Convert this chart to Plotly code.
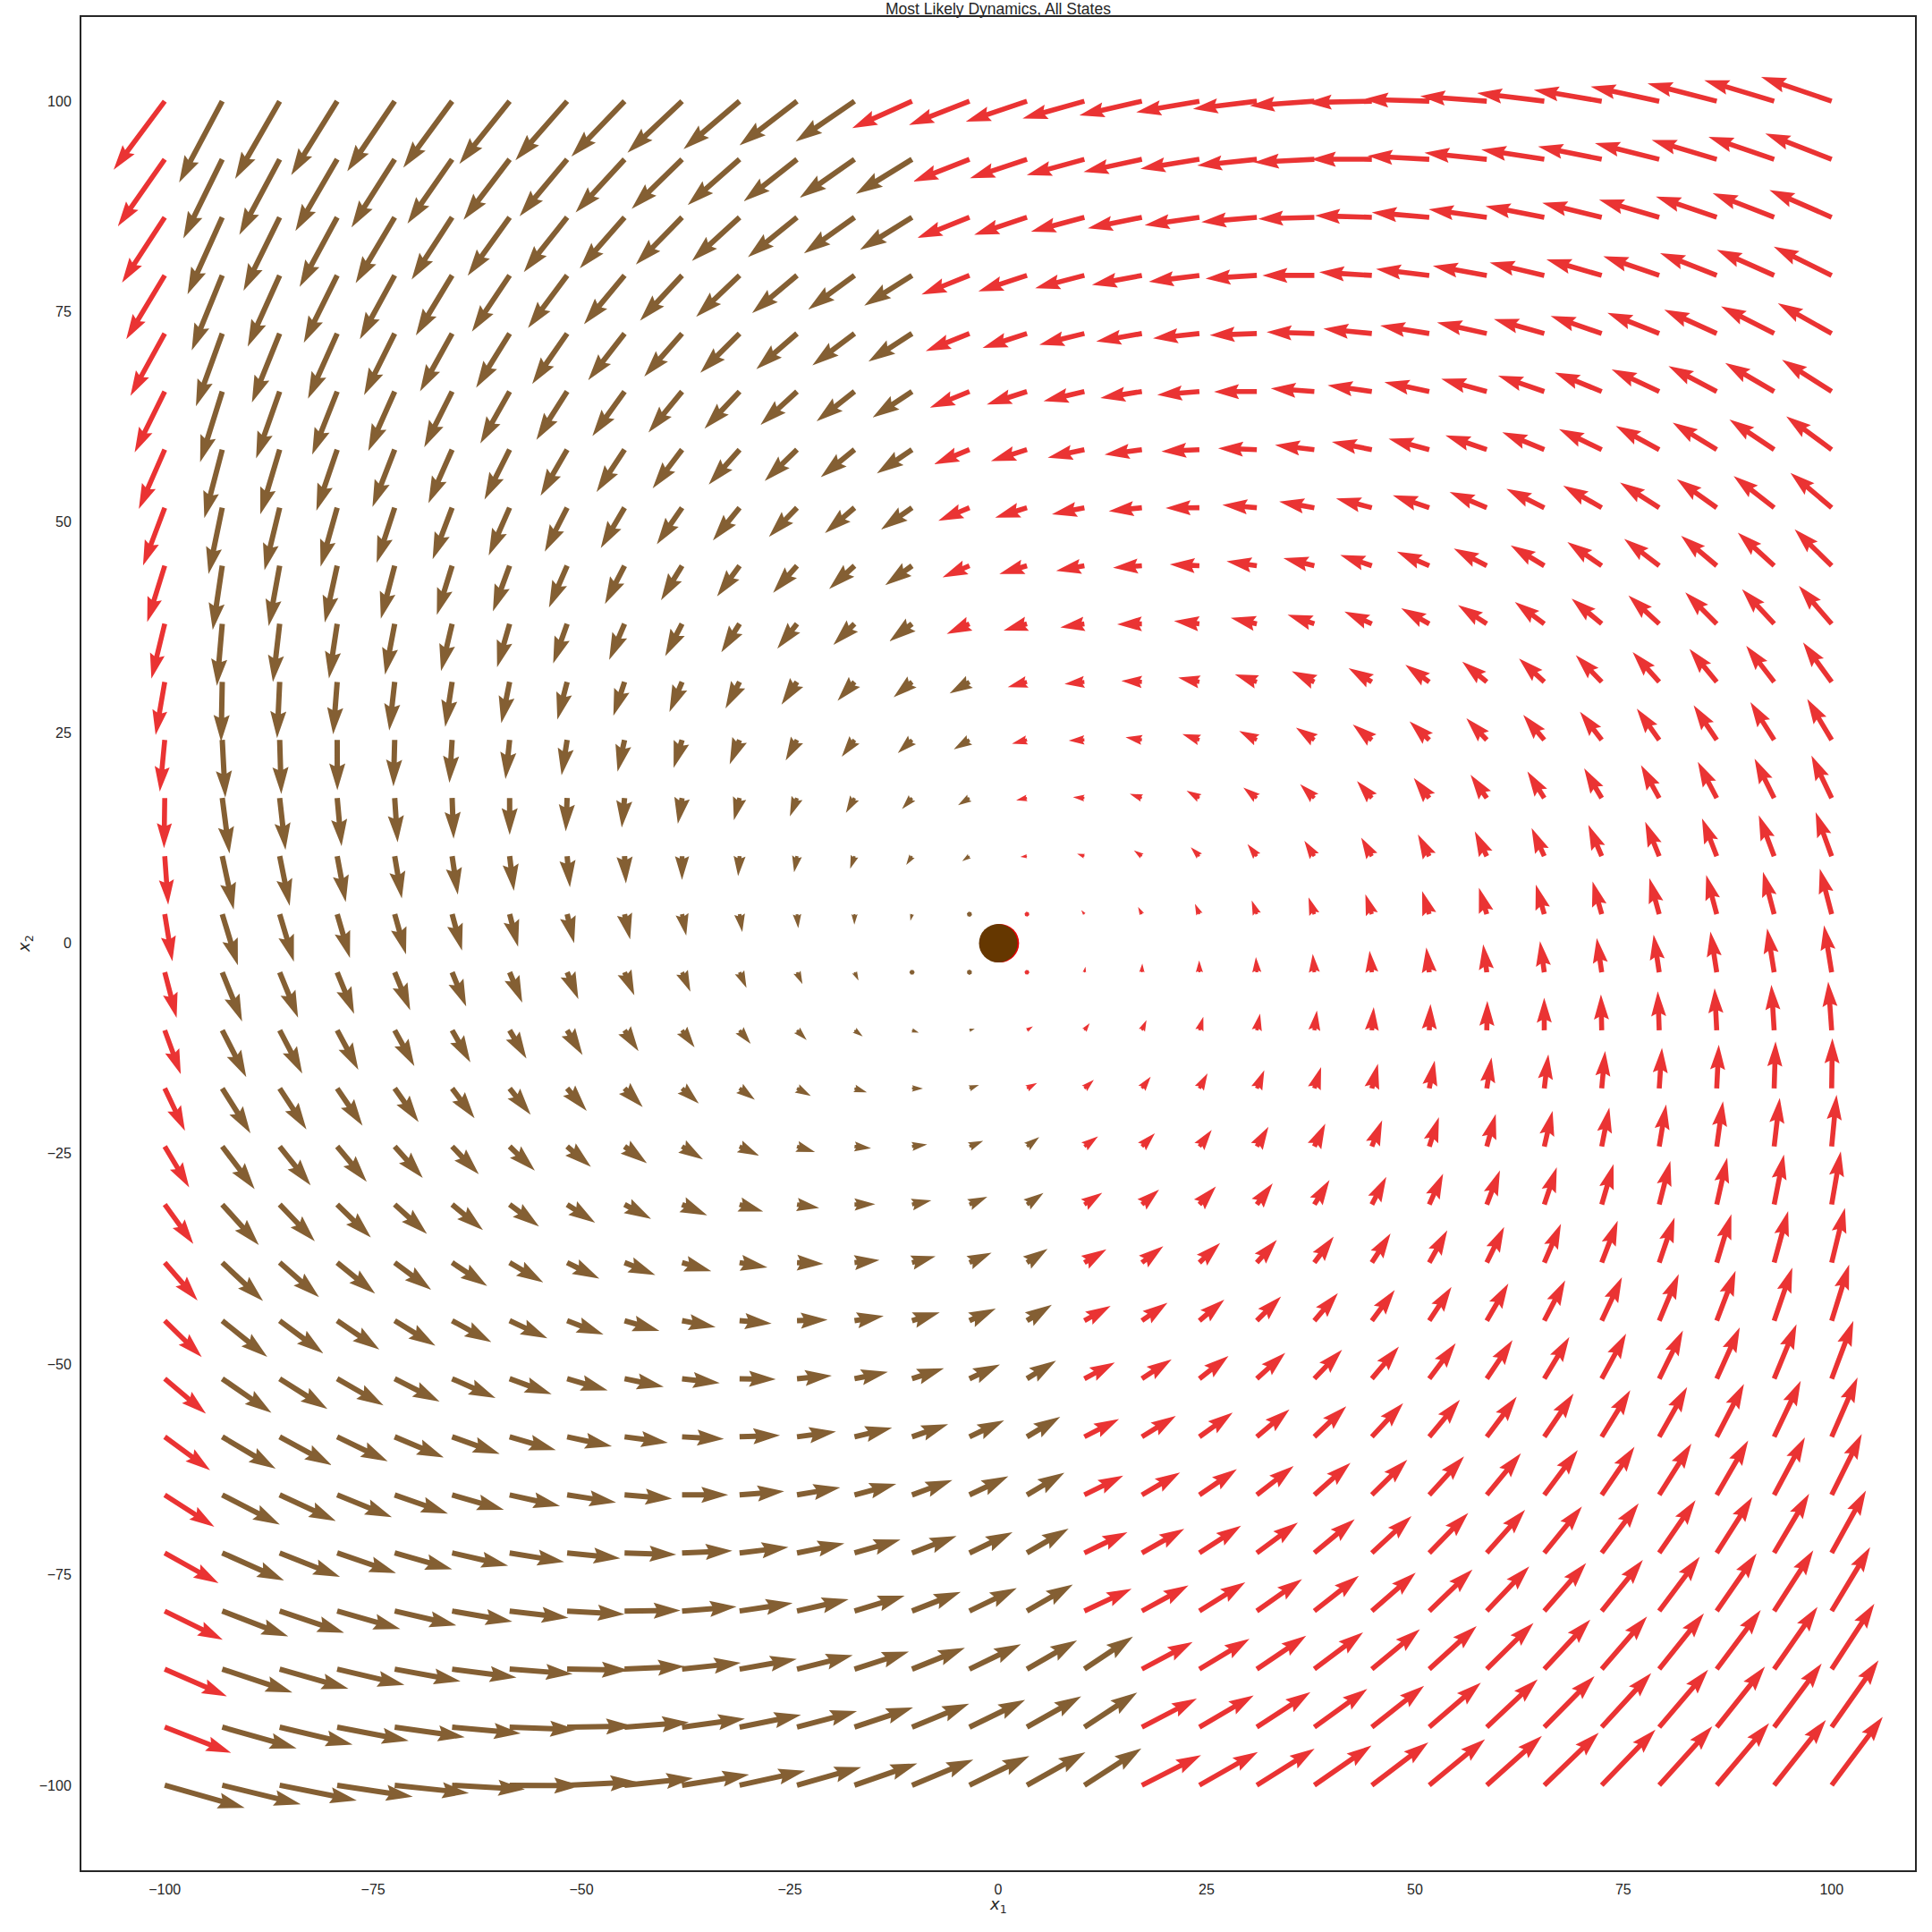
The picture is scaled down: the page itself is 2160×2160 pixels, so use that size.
import numpy as np
import plotly.graph_objects as go

# ---------------- data ----------------
# quiver grid (30 x 30), same values on both axes
GRID = [-100.0, -93.10, -86.21, -79.31, -72.41, -65.52, -58.62, -51.72, -44.83, -37.93,
        -31.03, -24.14, -17.24, -10.34, -3.45, 3.45, 10.34, 17.24, 24.14, 31.03,
        37.93, 44.83, 51.72, 58.62, 65.52, 72.41, 79.31, 86.21, 93.10, 100.0]

# most likely dynamics of each state, displayed arrow = M @ [x1, x2] + b
RED_M = [[-0.0117, -0.0730], [0.0550, -0.0263]]
RED_B = [0.0, 0.0]
BROWN_M = [[-0.0250, -0.0730], [0.0640, -0.0370]]
BROWN_B = [-0.20, 0.0]

# most likely state per row (row 0 = top, x2 = 100): first red column on the right
RIGHT_RED_FROM = [13, 14, 14, 14, 14, 14, 14, 14, 14, 14,
                  15, 15, 15, 15, 15, 15, 15, 15, 16, 16,
                  16, 16, 16, 16, 16, 16, 16, 17, 17, 17]
# left edge column (x1 = -100) is red in these rows
LEFT_RED_ROWS = list(range(0, 29))

FIXED_POINTS = {"red": (0.2, 0.0), "brown": (0.0, 0.0)}

TITLE = "Most Likely Dynamics, All States"
TICKS = [-100, -75, -50, -25, 0, 25, 50, 75, 100]

RED = "#ea3333"      # xkcd red at alpha 0.8 on white
BROWN = "#845f33"    # xkcd brown at alpha 0.8 on white
RED_SOLID = "#e50000"
BROWN_SOLID = "#653700"

# ---------------- layout geometry ----------------
W = H = 2160
ML, MR, MT, MB = 91, 19, 19, 69
XR = [-110.0, 110.0]
YR = [-110.1, 110.0]
SX = (W - ML - MR) / (XR[1] - XR[0])   # px per unit
SY = (H - MT - MB) / (YR[1] - YR[0])


def arrow_polygon(x0, y0, u, v, w):
    """matplotlib-quiver style arrow (headwidth 3, headlength 5, headaxislength 4.5)."""
    px, py = u * SX, v * SY
    L = np.hypot(px, py) / w
    hl, hal, hw = 5.0, 4.5, 3.0
    if L < 1.0:
        th = np.arange(8) * np.pi / 3.0
        X = np.cos(th) * 0.5
        Y = np.sin(th) * 0.5
    else:
        Y = np.array([0.5, 0.5, hw / 2, 0.0, -hw / 2, -0.5, -0.5, 0.5])
        if L < hl:
            X = np.array([0, hl - hal, 0, hl, 0, hl - hal, 0, 0], float)
            s = L / hl
            X, Y = X * s, Y * s
        else:
            X = np.array([0, L - hal, L - hl, L, L - hl, L - hal, 0, 0])
    a = np.arctan2(py, px)
    ca, sa = np.cos(a), np.sin(a)
    xr = (X * ca - Y * sa) * w / SX + x0
    yr = (X * sa + Y * ca) * w / SY + y0
    return list(xr), list(yr)


def build(points, M, b, w):
    M = np.array(M)
    b = np.array(b)
    xs, ys = [], []
    for (x, y) in points:
        u, v = M @ np.array([x, y]) + b
        px, py = arrow_polygon(x, y, u, v, w)
        xs += px + [None]
        ys += py + [None]
    return xs, ys


red_pts, brown_pts = [], []
n = len(GRID)
for r in range(n):
    yv = GRID[n - 1 - r]
    for c in range(n):
        xv = GRID[c]
        is_red = c >= RIGHT_RED_FROM[r] or (c == 0 and r in LEFT_RED_ROWS)
        (red_pts if is_red else brown_pts).append((xv, yv))

rx, ry = build(red_pts, RED_M, RED_B, 5.6)
bx, by = build(brown_pts, BROWN_M, BROWN_B, 6.0)

fig = go.Figure()
fig.add_trace(go.Scatter(x=rx, y=ry, mode="lines", fill="toself", fillcolor=RED,
                         line=dict(width=0, color=RED), hoverinfo="skip", showlegend=False))
fig.add_trace(go.Scatter(x=bx, y=by, mode="lines", fill="toself", fillcolor=BROWN,
                         line=dict(width=0, color=BROWN), hoverinfo="skip", showlegend=False))
fig.add_trace(go.Scatter(x=[FIXED_POINTS["red"][0]], y=[FIXED_POINTS["red"][1]], mode="markers",
                         marker=dict(size=43, color=RED_SOLID, line=dict(width=0)), showlegend=False))
fig.add_trace(go.Scatter(x=[FIXED_POINTS["brown"][0]], y=[FIXED_POINTS["brown"][1]], mode="markers",
                         marker=dict(size=43, color=BROWN_SOLID, line=dict(width=0)), showlegend=False))

axis_common = dict(showgrid=False, zeroline=False, showline=True, mirror=True,
                   linecolor="#262626", linewidth=2, tickvals=TICKS,
                   ticks="outside", ticklen=6, tickcolor="rgba(0,0,0,0)",
                   tickfont=dict(family="Liberation Sans, Arial", size=16, color="#262626"))

fig.update_layout(
    width=W, height=H, autosize=False,
    margin=dict(l=ML, r=MR, t=MT, b=MB),
    plot_bgcolor="white", paper_bgcolor="white",
    xaxis=dict(range=XR, **axis_common),
    yaxis=dict(range=YR, **axis_common),
    annotations=[
        dict(text=TITLE, xref="paper", yref="paper", x=0.5, y=1, xanchor="center",
             yanchor="middle", yshift=9, showarrow=False,
             font=dict(family="Liberation Sans, Arial", size=17.5, color="#262626")),
        dict(text="<i>x</i><sub>1</sub>", xref="paper", yref="paper", x=0.5, y=0,
             xanchor="center", yanchor="middle", yshift=-39, showarrow=False,
             font=dict(family="DejaVu Sans", size=18, color="#262626")),
        dict(text="<i>x</i><sub>2</sub>", xref="paper", yref="paper", x=0, y=0.5,
             xanchor="center", yanchor="middle", xshift=-63, textangle=-90, showarrow=False,
             font=dict(family="DejaVu Sans", size=18, color="#262626")),
    ],
)

fig.write_html("out.html")
